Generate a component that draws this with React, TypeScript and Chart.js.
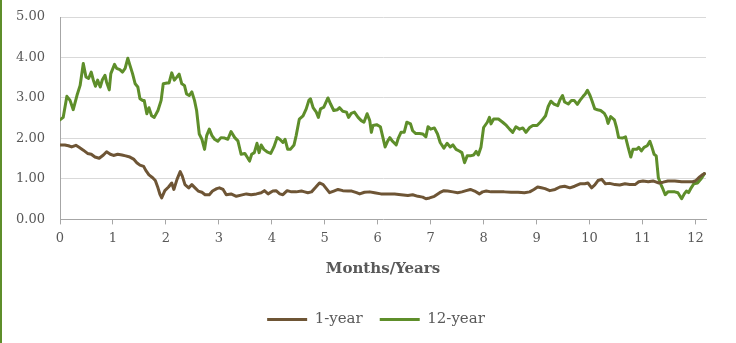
import { useEffect, useRef } from 'react';
import { Chart, registerables } from 'chart.js';

Chart.register(...registerables);

// Tenor spread series, sampled on a months/years axis
const oneYearX = [
  0.0, 0.09, 0.16, 0.22, 0.3, 0.36, 0.44, 0.52, 0.59, 0.66, 0.74, 0.82, 0.88, 0.95,
  1.01, 1.09, 1.17, 1.24, 1.32, 1.39, 1.45, 1.51, 1.58, 1.62, 1.68, 1.75, 1.8, 1.85, 1.89, 1.92, 1.98,
  2.05, 2.11, 2.15, 2.21, 2.27, 2.31, 2.36, 2.43, 2.49, 2.55, 2.61, 2.68, 2.74, 2.82, 2.88, 2.96,
  3.01, 3.08, 3.14, 3.23, 3.33, 3.42, 3.52, 3.61, 3.71, 3.8, 3.86, 3.93,
  4.02, 4.08, 4.15, 4.21, 4.29, 4.37, 4.46, 4.56, 4.62, 4.68, 4.75, 4.82, 4.9, 4.97,
  5.03, 5.09, 5.17, 5.25, 5.34, 5.44, 5.51, 5.6, 5.66, 5.75, 5.85, 5.94,
  6.06, 6.19, 6.32, 6.44, 6.57, 6.66, 6.76, 6.85, 6.91, 6.98,
  7.07, 7.17, 7.25, 7.32, 7.42, 7.51, 7.59, 7.67, 7.75, 7.83, 7.92, 7.98,
  8.05, 8.14, 8.27, 8.39, 8.52, 8.65, 8.77, 8.87, 8.95,
  9.02, 9.09, 9.16, 9.25, 9.35, 9.44, 9.53, 9.63, 9.72, 9.82, 9.91, 9.97,
  10.04, 10.1, 10.16, 10.23, 10.3, 10.38, 10.48, 10.57, 10.67, 10.76, 10.86, 10.93,
  11.01, 11.11, 11.2, 11.3, 11.39, 11.48, 11.61, 11.74, 11.86, 11.95,
  12.01, 12.08, 12.14, 12.17,
];
const oneYearY = [
  1.84, 1.84, 1.82, 1.79, 1.83, 1.78, 1.71, 1.63, 1.61, 1.54, 1.51, 1.59, 1.67, 1.61,
  1.58, 1.61, 1.59, 1.57, 1.54, 1.49, 1.4, 1.34, 1.31, 1.21, 1.1, 1.03, 0.96, 0.78, 0.61, 0.53, 0.71,
  0.8, 0.9, 0.74, 0.99, 1.18, 1.07, 0.86, 0.78, 0.86, 0.78, 0.7, 0.67, 0.61, 0.61, 0.7, 0.76,
  0.78, 0.74, 0.61, 0.63, 0.57, 0.6, 0.63, 0.61, 0.63, 0.66, 0.71, 0.63,
  0.7, 0.71, 0.63, 0.61, 0.71, 0.68, 0.68, 0.7, 0.68, 0.66, 0.68, 0.78, 0.9, 0.86,
  0.76, 0.66, 0.7, 0.74, 0.71, 0.7, 0.7, 0.66, 0.63, 0.67, 0.68, 0.66,
  0.63, 0.63, 0.63, 0.61, 0.59, 0.61, 0.57, 0.55, 0.51, 0.53,
  0.57, 0.66, 0.71, 0.7, 0.68, 0.66, 0.68, 0.71, 0.74, 0.7, 0.63, 0.68,
  0.7, 0.68, 0.68, 0.68, 0.67, 0.67, 0.66, 0.68, 0.74,
  0.8, 0.78, 0.76, 0.71, 0.74, 0.8, 0.82, 0.78, 0.82, 0.88, 0.88, 0.9,
  0.78, 0.85, 0.96, 0.99, 0.88, 0.89, 0.86, 0.85, 0.88, 0.86, 0.86, 0.93,
  0.95, 0.93, 0.95, 0.9, 0.92, 0.95, 0.95, 0.93, 0.93, 0.93,
  0.96, 1.05, 1.11, 1.13,
];

const twelveYearX = [
  0.0, 0.06, 0.13, 0.19, 0.25, 0.32, 0.38, 0.44, 0.49, 0.54, 0.59, 0.63, 0.67, 0.71, 0.76, 0.8, 0.85, 0.88, 0.93, 0.96,
  1.03, 1.07, 1.13, 1.18, 1.23, 1.28, 1.32, 1.37, 1.42, 1.47, 1.51, 1.56, 1.59, 1.64, 1.68, 1.73, 1.78, 1.85, 1.91, 1.95,
  2.02, 2.06, 2.11, 2.16, 2.21, 2.25, 2.3, 2.35, 2.39, 2.44, 2.49, 2.54, 2.58, 2.63, 2.68, 2.73, 2.77, 2.82, 2.87, 2.92, 2.98,
  3.04, 3.11, 3.17, 3.23, 3.3, 3.36, 3.42, 3.49, 3.54, 3.58, 3.62, 3.67, 3.72, 3.76, 3.8, 3.85, 3.91, 3.98,
  4.04, 4.1, 4.15, 4.21, 4.25, 4.3, 4.35, 4.42, 4.46, 4.52, 4.59, 4.65, 4.7, 4.73, 4.78, 4.84, 4.88, 4.92, 4.98,
  5.06, 5.11, 5.17, 5.24, 5.28, 5.34, 5.41, 5.45, 5.5, 5.56, 5.63, 5.69, 5.74, 5.8, 5.85, 5.88, 5.91, 5.98,
  6.05, 6.09, 6.14, 6.19, 6.23, 6.28, 6.35, 6.39, 6.44, 6.5, 6.55, 6.62, 6.66, 6.72, 6.79, 6.85, 6.91, 6.95,
  7.0, 7.07, 7.13, 7.18, 7.25, 7.31, 7.37, 7.42, 7.48, 7.54, 7.59, 7.64, 7.69, 7.75, 7.81, 7.86, 7.9, 7.95,
  8.0, 8.07, 8.11, 8.14, 8.19, 8.28, 8.36, 8.43, 8.49, 8.55, 8.61, 8.68, 8.74, 8.8, 8.87, 8.93,
  9.01, 9.07, 9.11, 9.17, 9.22, 9.27, 9.33, 9.4, 9.44, 9.49, 9.53, 9.6, 9.66, 9.71, 9.77, 9.82, 9.88, 9.92, 9.96,
  10.01, 10.05, 10.1, 10.15, 10.21, 10.28, 10.32, 10.35, 10.4, 10.47, 10.51, 10.55, 10.62, 10.68, 10.73, 10.78, 10.82, 10.89, 10.93, 10.98,
  11.03, 11.09, 11.14, 11.18, 11.22, 11.26, 11.3, 11.35, 11.39, 11.43, 11.48, 11.55, 11.61, 11.67, 11.74, 11.79, 11.83, 11.87, 11.92, 11.97,
  12.04, 12.1, 12.14, 12.17,
];
const twelveYearY = [
  2.46, 2.52, 3.04, 2.94, 2.71, 3.06, 3.31, 3.85, 3.52, 3.48, 3.64, 3.44, 3.29, 3.44, 3.27, 3.45, 3.56, 3.39, 3.2, 3.6,
  3.83, 3.73, 3.7, 3.64, 3.73, 3.98, 3.81, 3.6, 3.35, 3.27, 2.98, 2.94, 2.94, 2.61, 2.76, 2.56, 2.52, 2.69, 2.94, 3.35,
  3.37, 3.37, 3.62, 3.44, 3.52, 3.59, 3.35, 3.31, 3.1, 3.06, 3.15, 2.94, 2.69, 2.11, 1.98, 1.73, 2.07, 2.23, 2.07, 1.98, 1.93,
  2.02, 2.01, 1.98, 2.17, 2.02, 1.94, 1.61, 1.63, 1.53, 1.44, 1.61, 1.65, 1.88, 1.65, 1.84, 1.73, 1.67, 1.63,
  1.79, 2.02, 1.98, 1.9, 1.98, 1.73, 1.73, 1.84, 2.07, 2.48, 2.56, 2.73, 2.94, 2.98, 2.76, 2.65, 2.52, 2.73, 2.77,
  3.0, 2.85, 2.69, 2.71, 2.76, 2.67, 2.65, 2.52, 2.62, 2.65, 2.52, 2.44, 2.4, 2.61, 2.44, 2.15, 2.32, 2.34,
  2.29, 2.07, 1.79, 1.94, 2.02, 1.93, 1.84, 2.01, 2.15, 2.15, 2.4, 2.36, 2.19, 2.12, 2.12, 2.11, 2.04, 2.29,
  2.23, 2.26, 2.11, 1.9, 1.76, 1.88, 1.79, 1.84, 1.73, 1.69, 1.65, 1.4, 1.57, 1.57, 1.59, 1.68, 1.59, 1.78,
  2.27, 2.4, 2.52, 2.36, 2.48, 2.48, 2.4, 2.32, 2.23, 2.15, 2.29, 2.23, 2.26, 2.15, 2.27, 2.32,
  2.32, 2.4, 2.46, 2.56, 2.79, 2.92, 2.85, 2.81, 2.95, 3.06, 2.9, 2.85, 2.94, 2.94, 2.84, 2.94, 3.04, 3.1, 3.19,
  3.06, 2.92, 2.73, 2.71, 2.69, 2.62, 2.52, 2.37, 2.54, 2.46, 2.27, 2.02, 2.01, 2.04, 1.78, 1.54, 1.73, 1.73, 1.78, 1.69,
  1.78, 1.82, 1.93, 1.78, 1.61, 1.57, 1.03, 0.86, 0.74, 0.61, 0.68, 0.68, 0.68, 0.66, 0.51, 0.63, 0.7, 0.66, 0.78, 0.88,
  0.9, 0.99, 1.07, 1.13,
];

const seriesLabels = ['1-year', '12-year'];
const xAxisTitle = 'Months/Years';
const xTickValues = [0, 1, 2, 3, 4, 5, 6, 7, 8, 9, 10, 11, 12];
const xRange = [0, 12.2];
const yRange = [0, 5];

const BROWN = '#6E5535';
const GREEN = '#5E8E2A';
const TEXT = '#595959';
const FONT = "'DejaVu Serif', serif";

const toPoints = (xs: number[], ys: number[]) => xs.map((x, i) => ({ x, y: ys[i] }));

// Nudges the bottom legend horizontally after layout
const legendOffset = {
  id: 'legendOffset',
  afterLayout(chart: any) {
    const lg = chart.legend;
    if (lg) {
      lg.left -= 7;
      lg.right -= 7;
    }
  },
};

export default function App() {
  const canvasRef = useRef<HTMLCanvasElement>(null);

  useEffect(() => {
    if (!canvasRef.current) return;
    const chart = new Chart(canvasRef.current, {
      type: 'line',
      data: {
        datasets: [
          {
            label: seriesLabels[0],
            data: toPoints(oneYearX, oneYearY),
            borderColor: BROWN,
            backgroundColor: BROWN,
            borderWidth: 3,
            pointRadius: 0,
            tension: 0,
            borderJoinStyle: 'round',
            borderCapStyle: 'round',
          },
          {
            label: seriesLabels[1],
            data: toPoints(twelveYearX, twelveYearY),
            borderColor: GREEN,
            backgroundColor: GREEN,
            borderWidth: 3,
            pointRadius: 0,
            tension: 0,
            borderJoinStyle: 'round',
            borderCapStyle: 'round',
          },
        ],
      },
      options: {
        animation: false,
        responsive: false,
        layout: { padding: { left: 15, right: 30, top: 17, bottom: 6 } },
        plugins: {
          tooltip: { enabled: false },
          legend: {
            position: 'bottom',
            fullSize: false,
            labels: {
              color: TEXT,
              font: { family: FONT, size: 15 },
              boxWidth: 40,
              boxHeight: 3,
              padding: 17,
              generateLabels: (c: any) =>
                c.data.datasets.map((ds: any, i: number) => ({
                  text: ds.label,
                  fillStyle: ds.borderColor,
                  strokeStyle: ds.borderColor,
                  lineWidth: 0,
                  fontColor: TEXT,
                  datasetIndex: i,
                  hidden: false,
                })),
            },
          },
        },
        scales: {
          x: {
            type: 'linear',
            min: xRange[0],
            max: xRange[1],
            afterBuildTicks: (scale: any) => {
              scale.ticks = xTickValues.map((value) => ({ value }));
            },
            ticks: {
              color: TEXT,
              font: { family: FONT, size: 13 },
              padding: 6,
              maxRotation: 0,
              autoSkip: false,
            },
            grid: {
              drawOnChartArea: false,
              drawTicks: true,
              tickLength: 5,
              tickColor: '#a6a6a6',
            },
            border: { color: '#a6a6a6', width: 1 },
            title: {
              display: true,
              text: xAxisTitle,
              color: TEXT,
              font: { family: FONT, size: 15, weight: 'bold' },
              padding: { top: 8, bottom: 17 },
            },
          },
          y: {
            min: yRange[0],
            max: yRange[1],
            afterFit: (scale: any) => {
              scale.width = 45;
              scale.paddingTop = 0;
              scale.paddingBottom = 0;
            },
            ticks: {
              stepSize: 1,
              color: TEXT,
              font: { family: FONT, size: 13 },
              padding: 15,
              callback: (v: any) => Number(v).toFixed(2),
            },
            grid: {
              color: (ctx: any) => (ctx.tick && ctx.tick.value === 0 ? 'rgba(0,0,0,0)' : '#d9d9d9'),
              lineWidth: 1,
              drawTicks: false,
            },
            border: { color: '#a6a6a6', width: 1 },
          },
        },
      },
      plugins: [legendOffset],
    });
    return () => chart.destroy();
  }, []);

  return (
    <div style={{ position: 'absolute', left: 0, top: 0, width: 736, height: 343, background: '#fff' }}>
      <div style={{ position: 'absolute', left: 0, top: 0, width: 2, height: 343, background: GREEN }} />
      <canvas ref={canvasRef} width={736} height={343} style={{ position: 'absolute', left: 0, top: 0 }} />
    </div>
  );
}
